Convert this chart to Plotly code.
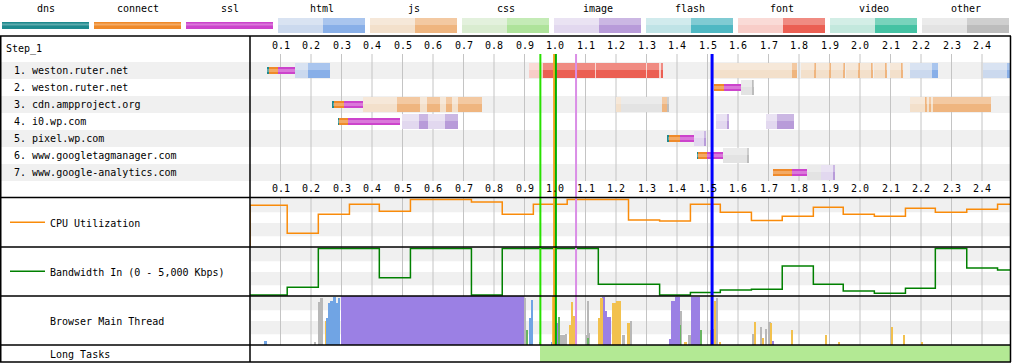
import plotly.graph_objects as go

W, H = 1012, 363
T_END = 760 / 305  # seconds visible across the timeline

# ---------------- data ----------------
tick_values = [0.1, 0.2, 0.3, 0.4, 0.5, 0.6, 0.7, 0.8, 0.9, 1.0, 1.1, 1.2,
               1.3, 1.4, 1.5, 1.6, 1.7, 1.8, 1.9, 2.0, 2.1, 2.2, 2.3, 2.4]
tick_labels = ["0.1", "0.2", "0.3", "0.4", "0.5", "0.6", "0.7", "0.8", "0.9", "1.0", "1.1", "1.2",
               "1.3", "1.4", "1.5", "1.6", "1.7", "1.8", "1.9", "2.0", "2.1", "2.2", "2.3", "2.4"]

hosts = ["1. weston.ruter.net", "2. weston.ruter.net", "3. cdn.ampproject.org",
         "4. i0.wp.com", "5. pixel.wp.com", "6. www.googletagmanager.com",
         "7. www.google-analytics.com"]

legend_names = ["dns", "connect", "ssl", "html", "js", "css", "image", "flash", "font", "video", "other"]

# (start s, end s, kind) per connection row
row1 = [(0.056, 0.062, "dns"), (0.062, 0.092, "connect"), (0.092, 0.148, "ssl"),
        (0.148, 0.190, "html"), (0.190, 0.262, "html_dl"),
        (0.915, 0.960, "font"), (0.960, 1.131, "font_dl"),
        (1.131, 1.135, "font"), (1.135, 1.299, "font_dl"),
        (1.299, 1.303, "font"), (1.303, 1.341, "font_dl"),
        (1.341, 1.346, "font"), (1.346, 1.353, "font_dl"),
        (1.515, 1.777, "js"), (1.777, 1.792, "js_dl"),
        (1.807, 1.850, "js"), (1.850, 1.853, "js_dl"),
        (1.853, 1.899, "js"), (1.899, 1.902, "js_dl"),
        (1.905, 1.945, "js"), (1.945, 1.948, "js_dl"),
        (1.954, 1.995, "js"), (1.995, 1.998, "js_dl"),
        (1.998, 2.039, "js"), (2.039, 2.042, "js_dl"),
        (2.045, 2.084, "js"), (2.084, 2.087, "js_dl"),
        (2.098, 2.137, "js"), (2.137, 2.141, "js_dl"),
        (2.164, 2.235, "html"), (2.235, 2.257, "html_dl"),
        (2.402, 2.481, "html"), (2.481, 2.492, "html_dl")]
row2 = [(1.521, 1.554, "connect"), (1.554, 1.609, "ssl"),
        (1.609, 1.648, "other"), (1.648, 1.652, "other_dl")]
row3 = [(0.272, 0.275, "dns"), (0.275, 0.308, "connect"), (0.308, 0.369, "ssl"),
        (0.369, 0.482, "js"), (0.482, 0.557, "js_dl"), (0.557, 0.579, "js"), (0.579, 0.623, "js_dl"),
        (0.623, 0.643, "js"), (0.643, 0.661, "js_dl"), (0.661, 0.683, "js"), (0.683, 0.760, "js_dl"),
        (1.200, 1.216, "js"), (1.216, 1.351, "other"), (1.351, 1.366, "js_dl"), (1.366, 1.374, "other_dl"),
        (2.164, 2.216, "js"), (2.216, 2.220, "js_dl"), (2.220, 2.226, "js"), (2.226, 2.233, "js_dl"),
        (2.233, 2.239, "js"), (2.239, 2.430, "js_dl")]
row4 = [(0.289, 0.292, "dns"), (0.292, 0.321, "connect"), (0.321, 0.492, "ssl"),
        (0.498, 0.555, "image"), (0.555, 0.585, "image_dl"), (0.585, 0.639, "image"), (0.639, 0.682, "image_dl"),
        (1.528, 1.563, "image"), (1.563, 1.570, "image_dl"),
        (1.692, 1.728, "image"), (1.728, 1.784, "image_dl")]
row5 = [(1.370, 1.374, "dns"), (1.374, 1.410, "connect"), (1.410, 1.456, "ssl"),
        (1.456, 1.490, "image"), (1.490, 1.495, "image_dl")]
row6 = [(1.466, 1.468, "dns"), (1.468, 1.499, "connect"), (1.499, 1.550, "ssl"),
        (1.550, 1.630, "other"), (1.630, 1.636, "other_dl")]
row7 = [(1.715, 1.777, "connect"), (1.777, 1.826, "ssl"), (1.826, 1.873, "other"),
        (1.873, 1.912, "image"), (1.912, 1.918, "image_dl")]
rows = [row1, row2, row3, row4, row5, row6, row7]

# CPU utilisation (%), step starts
cpu_t = [0.000, 0.122, 0.224, 0.326, 0.424, 0.526, 0.726, 0.827, 0.929, 1.040, 1.241, 1.343,
         1.444, 1.542, 1.644, 1.745, 1.847, 1.945, 2.047, 2.149, 2.247, 2.350, 2.451]
cpu_v = [85, 28, 67, 87, 73, 97, 92, 67, 87, 97, 55, 53,
         87, 71, 54, 63, 81, 67, 63, 79, 71, 77, 87]

# Bandwidth in (Kbps), step starts
bw_t = [0.000, 0.122, 0.224, 0.424, 0.526, 0.726, 0.827, 1.142, 1.343, 1.444, 1.542, 1.644,
        1.745, 1.847, 1.945, 2.047, 2.149, 2.247, 2.350, 2.451]
bw_v = [100, 900, 4850, 1850, 4850, 100, 4850, 1200, 100, 350, 600, 700,
        3050, 1200, 500, 275, 800, 4850, 2850, 2650]

# Browser main thread: (start s, end s, kind, busy fraction)
main_thread = [
    (0.049, 0.055, "parse", 0.09),
    (0.210, 0.216, "other", 0.07),
    (0.223, 0.228, "other", 0.88), (0.228, 0.238, "other", 0.95),
    (0.246, 0.249, "script", 0.48),
    (0.249, 0.256, "parse", 0.55), (0.256, 0.262, "parse", 0.85), (0.262, 0.273, "parse", 0.90),
    (0.273, 0.282, "parse", 0.97), (0.282, 0.290, "parse", 0.85), (0.290, 0.296, "parse", 0.96),
    (0.298, 0.898, "layout", 1.00),
    (0.898, 0.905, "other", 0.96), (0.905, 0.909, "paint", 0.31),
    (0.918, 0.921, "parse", 0.55), (0.921, 0.928, "parse", 0.92),
    (0.948, 0.953, "other", 0.06),
    (0.989, 0.993, "parse", 0.07), (0.993, 0.999, "script", 1.00),
    (0.999, 1.004, "layout", 0.75), (1.004, 1.011, "layout", 0.45),
    (1.011, 1.016, "paint", 0.58), (1.016, 1.033, "other", 0.20), (1.033, 1.039, "other", 0.23),
    (1.049, 1.054, "script", 0.40), (1.054, 1.060, "script", 0.88), (1.060, 1.066, "script", 0.60),
    (1.066, 1.071, "script", 0.20),
    (1.102, 1.105, "other", 0.20), (1.105, 1.110, "other", 0.90), (1.110, 1.115, "other", 0.25),
    (1.106, 1.109, "paint", 0.14),
    (1.141, 1.148, "script", 0.55), (1.148, 1.157, "script", 0.95),
    (1.153, 1.164, "layout", 0.97), (1.164, 1.172, "layout", 0.70), (1.172, 1.182, "layout", 0.58),
    (1.186, 1.200, "script", 0.85), (1.200, 1.216, "script", 0.90), (1.197, 1.207, "layout", 0.35),
    (1.219, 1.230, "other", 0.20), (1.235, 1.246, "script", 0.45), (1.246, 1.252, "other", 0.50),
    (1.374, 1.379, "layout", 0.12), (1.379, 1.393, "layout", 0.90), (1.393, 1.410, "layout", 0.97),
    (1.410, 1.414, "other", 0.70), (1.410, 1.413, "paint", 0.40),
    (1.426, 1.432, "script", 0.06), (1.439, 1.445, "other", 0.20),
    (1.445, 1.475, "layout", 0.97),
    (1.475, 1.481, "other", 0.20), (1.476, 1.479, "paint", 0.31),
    (1.508, 1.516, "script", 0.30), (1.516, 1.522, "other", 0.33), (1.522, 1.528, "script", 0.90),
    (1.530, 1.536, "other", 0.95), (1.538, 1.543, "script", 0.07),
    (1.648, 1.654, "other", 0.22), (1.654, 1.659, "script", 0.47),
    (1.672, 1.679, "other", 0.36), (1.679, 1.685, "script", 0.14),
    (1.689, 1.694, "other", 0.33), (1.699, 1.707, "other", 0.47), (1.705, 1.713, "script", 0.44),
    (1.713, 1.719, "layout", 0.08),
    (1.777, 1.781, "script", 0.30), (1.888, 1.892, "script", 0.20), (1.928, 1.932, "script", 0.07),
    (2.100, 2.107, "script", 0.37), (2.142, 2.146, "script", 0.20), (2.202, 2.208, "script", 0.07),
]

long_tasks = [(0.952, T_END)]

# page events: (time s, colour, line width)
events = [(0.952, "#28e000", 2), (0.997, "#f5a623", 2), (1.003, "#00b000", 2),
          (1.069, "#da8ee6", 2), (1.515, "#0000ff", 3)]

# ---------------- styles ----------------
FONT = "DejaVu Sans Mono"
solid = {"dns": "#1f8a8e", "connect": "#ef8a2a", "ssl": "#cc44cc"}
light_dark = {
    "html": ("#cbd9ee", "#88afe8"), "js": ("#f3e0cb", "#efb57f"), "css": ("#d9ecd0", "#aee39a"),
    "image": ("#e2d8ef", "#b89bd9"), "flash": ("#bfe3e6", "#4fb8c3"), "font": ("#f8cdc8", "#eb5f53"),
    "video": ("#c3e8dd", "#44c2a3"), "other": ("#e3e3e3", "#bdbdbd"),
}
mt_colors = {"other": "#b8b8b8", "parse": "#70a4e4", "layout": "#9b80e4",
             "script": "#f2c14e", "paint": "#6ab562"}
SHINE = "rgba(255,255,255,0.28)"


def kind_color(kind):
    if kind in solid:
        return solid[kind]
    if kind.endswith("_dl"):
        return light_dark[kind[:-3]][1]
    return light_dark[kind][0]


def px(x):
    return x / W


def py(y):
    return 1 - y / H


fig = go.Figure()

# ---- waterfall bars ----
kinds_order = []
for r in rows:
    for s, e, k in r:
        if k not in kinds_order:
            kinds_order.append(k)
for k in kinds_order:
    ys, xs, bs = [], [], []
    for i, r in enumerate(rows):
        for s, e, kk in r:
            if kk == k:
                ys.append(i)
                xs.append(e - s)
                bs.append(s)
    thin = k in solid
    fig.add_trace(go.Bar(orientation="h", y=ys, x=xs, base=bs, width=0.4 if thin else 0.88,
                         marker=dict(color=kind_color(k), line_width=0),
                         xaxis="x", yaxis="y", hoverinfo="skip", showlegend=False))
    # lighter upper half (gradient look)
    fig.add_trace(go.Bar(orientation="h", y=ys, x=xs, base=bs,
                         width=0.16 if thin else 0.4, offset=-0.1 if thin else -0.44,
                         marker=dict(color=SHINE, line_width=0),
                         xaxis="x", yaxis="y", hoverinfo="skip", showlegend=False))

# ---- CPU ----
fig.add_trace(go.Scatter(x=[0] + cpu_t + [T_END], y=[0] + cpu_v + [cpu_v[-1]], mode="lines",
                         line=dict(color="#f98b0a", width=1.5, shape="hv"),
                         xaxis="x", yaxis="y2", hoverinfo="skip", showlegend=False))
# ---- Bandwidth ----
fig.add_trace(go.Scatter(x=bw_t + [T_END], y=bw_v + [bw_v[-1]], mode="lines",
                         line=dict(color="#008000", width=1.5, shape="hv"),
                         xaxis="x", yaxis="y3", hoverinfo="skip", showlegend=False))

# ---- Main thread ----
for k in ["other", "parse", "layout", "script", "paint"]:
    xs, ws, hs = [], [], []
    for s, e, kk, f in main_thread:
        if kk == k:
            xs.append((s + e) / 2)
            ws.append(e - s)
            hs.append(f)
    fig.add_trace(go.Bar(x=xs, y=hs, width=ws, marker=dict(color=mt_colors[k], line_width=0),
                         xaxis="x", yaxis="y4", hoverinfo="skip", showlegend=False))

# ---- Long tasks ----
fig.add_trace(go.Bar(orientation="h", y=[0.5] * len(long_tasks),
                     x=[e - s for s, e in long_tasks], base=[s for s, e in long_tasks],
                     width=1, marker=dict(color="#b3e994", line_width=0),
                     xaxis="x", yaxis="y5", hoverinfo="skip", showlegend=False))

shapes = []
annotations = []

# row stripes
for i in range(len(hosts)):
    if i % 2 == 0:
        shapes.append(dict(type="rect", xref="paper", yref="y", x0=px(1), x1=px(1010),
                           y0=i - 0.5, y1=i + 0.5, fillcolor="#f0f0f0", line_width=0, layer="below"))
for yr in ["y2", "y3", "y4"]:
    for b0, b1 in [(0.71, 1.0), (0.22, 0.49)]:
        shapes.append(dict(type="rect", xref="paper", yref=yr + " domain", x0=px(251), x1=px(1010),
                           y0=b0, y1=b1, fillcolor="#f0f0f0", line_width=0, layer="below"))
# grid lines
for t in tick_values:
    for y0, y1 in [(54, 181), (198, 345)]:
        shapes.append(dict(type="line", xref="x", yref="paper", x0=t, x1=t, y0=py(y0), y1=py(y1),
                           line=dict(color="#c4c4c4", width=1), layer="below"))
# event lines
for t, c, w in events:
    shapes.append(dict(type="line", xref="x", yref="paper", x0=t, x1=t, y0=py(54), y1=py(345),
                       line=dict(color=c, width=w), layer="above"))
# frame
frame_h = [(36, 0, 1011), (197.5, 0, 1011), (247, 0, 1011), (296, 0, 1011), (345, 0, 1011), (362, 0, 1011)]
for y, x0, x1 in frame_h:
    shapes.append(dict(type="line", xref="paper", yref="paper", x0=px(x0), x1=px(x1), y0=py(y), y1=py(y),
                       line=dict(color="black", width=1.5), layer="above"))
for x in [0.75, 250, 1010.5]:
    shapes.append(dict(type="line", xref="paper", yref="paper", x0=px(x), x1=px(x), y0=py(36), y1=py(362),
                       line=dict(color="black", width=1.5), layer="above"))

# legend
for i, name in enumerate(legend_names):
    x0 = 2 + 92 * i
    annotations.append(dict(x=px(x0 + 43.5), y=py(8.5), xref="paper", yref="paper", text=name,
                            showarrow=False, font=dict(family=FONT, size=10, color="black"),
                            xanchor="center", yanchor="middle"))
    if name in solid:
        shapes.append(dict(type="rect", xref="paper", yref="paper", x0=px(x0), x1=px(x0 + 87),
                           y0=py(29), y1=py(22), fillcolor=solid[name], line_width=0))
        shapes.append(dict(type="rect", xref="paper", yref="paper", x0=px(x0), x1=px(x0 + 87),
                           y0=py(25.5), y1=py(23.5), fillcolor=SHINE, line_width=0))
    else:
        lc, dc = light_dark[name]
        shapes.append(dict(type="rect", xref="paper", yref="paper", x0=px(x0), x1=px(x0 + 45),
                           y0=py(33), y1=py(18), fillcolor=lc, line_width=0))
        shapes.append(dict(type="rect", xref="paper", yref="paper", x0=px(x0 + 45), x1=px(x0 + 87),
                           y0=py(33), y1=py(18), fillcolor=dc, line_width=0))
        shapes.append(dict(type="rect", xref="paper", yref="paper", x0=px(x0), x1=px(x0 + 87),
                           y0=py(25), y1=py(18), fillcolor=SHINE, line_width=0))

# tick labels
for t, lab in zip(tick_values, tick_labels):
    for y in [45, 188]:
        annotations.append(dict(x=t, y=py(y), xref="x", yref="paper", text=lab, showarrow=False,
                                font=dict(family=FONT, size=10, color="black"),
                                xanchor="center", yanchor="middle"))

# left labels
annotations.append(dict(x=px(4), y=py(49), xref="paper", yref="paper", text="Step_1", showarrow=False,
                        font=dict(family=FONT, size=10, color="black"), xanchor="left", yanchor="middle"))
for i, h in enumerate(hosts):
    annotations.append(dict(x=px(12), y=i, xref="paper", yref="y", text=h, showarrow=False,
                            font=dict(family=FONT, size=10, color="black"), xanchor="left", yanchor="middle"))
for txt, y in [("CPU Utilization", 223), ("Bandwidth In (0 - 5,000 Kbps)", 272),
               ("Browser Main Thread", 321), ("Long Tasks", 354)]:
    annotations.append(dict(x=px(48), y=py(y), xref="paper", yref="paper", text=txt, showarrow=False,
                            font=dict(family=FONT, size=10, color="black"), xanchor="left", yanchor="middle"))
for y, c in [(222.3, "#f98b0a"), (271.3, "#008000")]:
    shapes.append(dict(type="line", xref="paper", yref="paper", x0=px(10), x1=px(45), y0=py(y), y1=py(y),
                       line=dict(color=c, width=1.5)))

fig.update_layout(
    width=W, height=H, margin=dict(l=0, r=0, t=0, b=0),
    paper_bgcolor="white", plot_bgcolor="rgba(0,0,0,0)",
    barmode="overlay", bargap=0, showlegend=False,
    xaxis=dict(domain=[px(250), px(1010)], range=[0, T_END], visible=False, fixedrange=True),
    yaxis=dict(domain=[py(181), py(62)], range=[6.5, -0.5], visible=False, fixedrange=True),
    yaxis2=dict(domain=[py(247), py(198)], range=[0, 100], visible=False, fixedrange=True),
    yaxis3=dict(domain=[py(296), py(247)], range=[0, 5000], visible=False, fixedrange=True),
    yaxis4=dict(domain=[py(345), py(296)], range=[0, 1], visible=False, fixedrange=True),
    yaxis5=dict(domain=[py(362), py(345)], range=[0, 1], visible=False, fixedrange=True),
    shapes=shapes, annotations=annotations,
)

fig.write_html("out.html", config={"displayModeBar": False},
               post_script="document.body.style.margin='0';document.body.style.overflow='hidden';")
